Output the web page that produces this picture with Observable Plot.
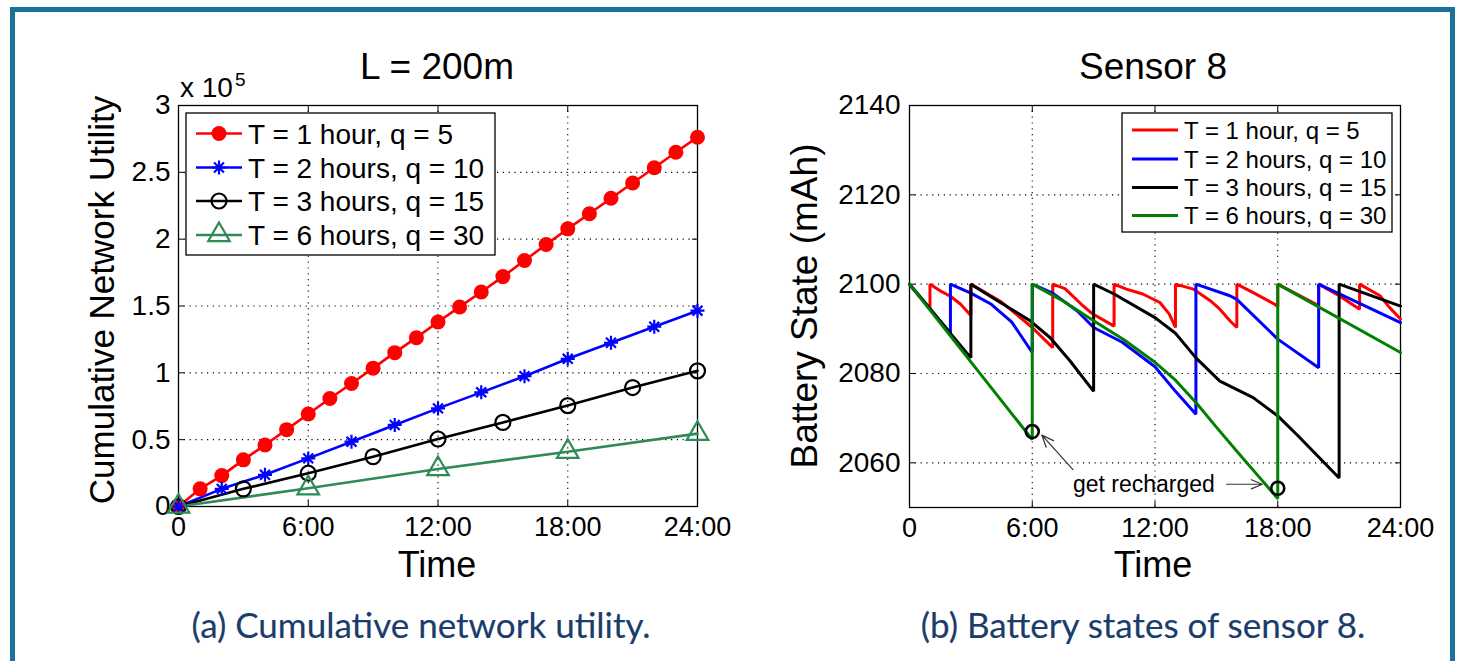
<!DOCTYPE html>
<html><head><meta charset="utf-8">
<script src="https://cdn.jsdelivr.net/npm/d3@7"></script>
<script src="https://cdn.jsdelivr.net/npm/@observablehq/plot@0.6"></script>
<style>
html,body{margin:0;padding:0;background:#fff;}
#root{position:relative;width:1462px;height:661px;overflow:hidden;background:#fff;}
#root > * {position:absolute;}
#frameBox{left:10px;top:7px;width:1445px;height:720px;border:5px solid #18729b;box-sizing:border-box;}
</style></head>
<body><div id="root"><div id="frameBox"></div></div>
<script>
// ---------- Left panel data: cumulative network utility (x 10^5) ----------
const xTicks = [0, 6, 12, 18, 24];
const xTickLabels = ["0", "6:00", "12:00", "18:00", "24:00"];
const yTicksLeft = [0, 0.5, 1, 1.5, 2, 2.5, 3];
const yTickLabelsLeft = ["0", "0.5", "1", "1.5", "2", "2.5", "3"];
const yTicksRight = [2060, 2080, 2100, 2120, 2140];

const seriesNames = ["T = 1 hour, q = 5", "T = 2 hours, q = 10", "T = 3 hours, q = 15", "T = 6 hours, q = 30"];

const utilRedX = [0,1,2,3,4,5,6,7,8,9,10,11,12,13,14,15,16,17,18,19,20,21,22,23,24];
const utilRedY = [0,0.132,0.231,0.349,0.46,0.575,0.692,0.808,0.92,1.035,1.151,1.263,1.38,1.493,1.605,1.72,1.84,1.96,2.077,2.19,2.306,2.42,2.534,2.65,2.763];
const utilBlueX = [0,2,4,6,8,10,12,14,16,18,20,22,24];
const utilBlueY = [0,0.132,0.237,0.36,0.485,0.61,0.734,0.854,0.975,1.105,1.225,1.345,1.465];
const utilBlackX = [0,3,6,9,12,15,18,21,24];
const utilBlackY = [0,0.132,0.249,0.373,0.505,0.629,0.755,0.89,1.015];
const utilGreenX = [0,6,12,18,24];
const utilGreenY = [0,0.137,0.281,0.41,0.545];

// ---------- Right panel data: battery state of sensor 8 (mAh) ----------
const batRedH = [0,1,1,1.5,2,2.5,3,3,4.5,6,7,7,7.6,8.4,8.9,10,10,10.6,11.4,12.24,12.7,13,13,13.87,14.7,15.17,15.66,16,16,16.8,17.85,18,18,20,20,21,22,22,23,23.46,24];
const batRedV = [2100,2094.5,2100,2098.5,2097.3,2095.5,2093,2100,2096,2090.3,2085.8,2100,2099,2095.5,2093.5,2090.6,2100,2098.9,2097.8,2095.9,2093.3,2090.3,2100,2098.9,2096.3,2094.4,2091.8,2090.3,2100,2098.1,2095.5,2095,2100,2095.2,2100,2097.4,2094.4,2100,2097.4,2094.8,2092.2];
const batBlueH = [0,2,2,3,4,5,6,6,7,8.2,9,10.4,12,13,14,14,15.66,16,18,20,20,24];
const batBlueV = [2100,2089,2100,2098,2095.5,2091.5,2084.7,2100,2098,2094,2090.3,2087,2081.5,2076,2070.9,2100,2097.4,2096.6,2087.7,2081.3,2100,2091.4];
const batBlackH = [0,3,3,4.44,5.9,6.88,7.85,9,9,10,12,13,14,15.17,16.8,18,19,20,21,21,24];
const batBlackV = [2100,2083.5,2100,2095.9,2091.8,2088,2082.8,2076,2100,2097.8,2092.5,2089,2083.5,2078.3,2074.6,2070.5,2066,2061.3,2056.6,2100,2095.1];
const batGreenH = [0,6,6,7.37,9,10.5,12,13,14,15,16,17,18,18,24];
const batGreenV = [2100,2065.2,2100,2096.6,2091.8,2087.5,2082.5,2078.5,2073.5,2068,2062.6,2057.3,2052,2100,2084.7];

const rechargeH = [6, 18];
const rechargeV = [2067, 2054.3];
const annotText = "get recharged";
const arrowFromH = [7.99, 15.5];
const arrowFromV = [2058.5, 2055.2];
const arrowToH = [6.47, 17.25];
const arrowToV = [2066.2, 2055.2];

const colorsLeft = ["#ff0000", "#0000ff", "#000000", "#2e8b57"];
const colorsRight = ["#ff0000", "#0000ff", "#000000", "#008000"];

// ---------- build tables ----------
const zip = (xs, ys, s) => xs.map((x, i) => ({x, y: ys[i], s}));
const utilSets = [[utilRedX, utilRedY], [utilBlueX, utilBlueY], [utilBlackX, utilBlackY], [utilGreenX, utilGreenY]]
  .map(([a, b], i) => zip(a, b, seriesNames[i]));
const batSets = [[batRedH, batRedV], [batBlueH, batBlueV], [batBlackH, batBlackV], [batGreenH, batGreenV]]
  .map(([a, b], i) => zip(a, b, seriesNames[i]));

// MATLAB-style "*" marker: a plus and a cross
const star8 = {draw(ctx, size) {
  const r = Math.sqrt(size / Math.PI), d = r * Math.SQRT1_2;
  ctx.moveTo(-r, 0); ctx.lineTo(r, 0);
  ctx.moveTo(0, -r); ctx.lineTo(0, r);
  ctx.moveTo(-d, -d); ctx.lineTo(d, d);
  ctx.moveTo(-d, d); ctx.lineTo(d, -d);
}};

const FONT = "'Liberation Sans', Arial, Helvetica, sans-serif";
const grid = {stroke: "#000", strokeOpacity: 1, strokeWidth: 1.1, strokeDasharray: "1.2,4.6"};
const xLab = new Map(xTicks.map((t, i) => [t, xTickLabels[i]]));
const yLabL = new Map(yTicksLeft.map((t, i) => [t, yTickLabelsLeft[i]]));

const W1 = 740, H = 600;
const left = Plot.plot({
  width: W1, height: H,
  marginLeft: 178, marginRight: W1 - 697, marginTop: 105, marginBottom: H - 506,
  style: {fontFamily: FONT, fontSize: "27px", color: "#000", background: "transparent", overflow: "visible"},
  x: {domain: [0, 24]},
  y: {domain: [0, 3]},
  marks: [
    Plot.gridX([6, 12, 18], grid),
    Plot.gridY([0.5, 1, 1.5, 2, 2.5], grid),
    Plot.axisX(xTicks, {anchor: "bottom", tickSize: 0, tickPadding: 10, tickFormat: d => xLab.get(d), label: null, fontSize: 27}),
    Plot.axisY(yTicksLeft, {anchor: "left", tickSize: 0, tickPadding: 8, tickFormat: d => yLabL.get(d), label: null, fontSize: 28}),
    Plot.axisX(xTicks, {anchor: "bottom", tickSize: -6, tickFormat: () => "", label: null}),
    Plot.axisX(xTicks, {anchor: "top", tickSize: -6, tickFormat: () => "", label: null}),
    Plot.axisY(yTicksLeft, {anchor: "left", tickSize: -6, tickFormat: () => "", label: null}),
    Plot.axisY(yTicksLeft, {anchor: "right", tickSize: -6, tickFormat: () => "", label: null}),
    Plot.frame({stroke: "#000", strokeWidth: 1.3}),
    ...utilSets.map((d, i) => Plot.line(d, {x: "x", y: "y", stroke: colorsLeft[i], strokeWidth: 2.6})),
    Plot.dot(utilSets[0], {x: "x", y: "y", fill: colorsLeft[0], r: 7.5, symbol: "circle"}),
    Plot.dot(utilSets[1], {x: "x", y: "y", stroke: colorsLeft[1], r: 7, symbol: star8, strokeWidth: 2.2}),
    Plot.dot(utilSets[2], {x: "x", y: "y", stroke: colorsLeft[2], r: 7.5, symbol: "circle", fill: "none", strokeWidth: 2.2}),
    Plot.dot(utilSets[3], {x: "x", y: "y", stroke: colorsLeft[3], r: 8, symbol: "triangle", fill: "none", strokeWidth: 2.2})
  ]
});
left.style.left = "0px"; left.style.top = "0px";
document.getElementById("root").appendChild(left);

const X2 = 740, W2 = 722;
const right = Plot.plot({
  width: W2, height: H,
  marginLeft: 909 - X2, marginRight: X2 + W2 - 1400, marginTop: 105, marginBottom: H - 507,
  style: {fontFamily: FONT, fontSize: "27px", color: "#000", background: "transparent", overflow: "visible"},
  x: {domain: [0, 24]},
  y: {domain: [2050, 2140]},
  marks: [
    Plot.gridX([6, 12, 18], grid),
    Plot.gridY([2060, 2080, 2100, 2120], grid),
    Plot.axisX(xTicks, {anchor: "bottom", tickSize: 0, tickPadding: 10, tickFormat: d => xLab.get(d), label: null, fontSize: 27}),
    Plot.axisY(yTicksRight, {anchor: "left", tickSize: 0, tickPadding: 9, tickFormat: d => String(d), label: null, fontSize: 28}),
    Plot.axisX(xTicks, {anchor: "bottom", tickSize: -6, tickFormat: () => "", label: null}),
    Plot.axisX(xTicks, {anchor: "top", tickSize: -6, tickFormat: () => "", label: null}),
    Plot.axisY(yTicksRight, {anchor: "left", tickSize: -6, tickFormat: () => "", label: null}),
    Plot.axisY(yTicksRight, {anchor: "right", tickSize: -6, tickFormat: () => "", label: null}),
    Plot.frame({stroke: "#000", strokeWidth: 1.3}),
    ...batSets.map((d, i) => Plot.line(d, {x: "x", y: "y", stroke: colorsRight[i], strokeWidth: 3, strokeLinejoin: "miter"})),
    Plot.dot(rechargeH.map((h, i) => ({h, v: rechargeV[i]})), {x: "h", y: "v", r: 6.5, stroke: "#000", strokeWidth: 2.6, fill: "none"}),
    Plot.arrow(arrowFromH.map((h, i) => ({x1: h, y1: arrowFromV[i], x2: arrowToH[i], y2: arrowToV[i]})),
      {x1: "x1", y1: "y1", x2: "x2", y2: "y2", stroke: "#333", strokeWidth: 1.2, headLength: 16, headAngle: 45}),
    Plot.text([annotText], {x: [arrowFromH[0]], y: [arrowFromV[1]], text: d => d, textAnchor: "start", fontSize: 23, fill: "#000"})
  ]
});
right.style.left = X2 + "px"; right.style.top = "0px";
document.getElementById("root").appendChild(right);

// ---------- overlay: titles, axis names, legends, captions ----------
const ov = d3.select("#root").append("svg")
  .attr("width", 1462).attr("height", 661)
  .style("left", "0px").style("top", "0px").style("pointer-events", "none")
  .style("font-family", FONT);

const txt = (x, y, s, size, anchor = "middle", extra = {}) => {
  const t = ov.append("text").attr("x", x).attr("y", y).attr("font-size", size).attr("text-anchor", anchor).text(s);
  for (const k in extra) t.attr(k, extra[k]);
  return t;
};
txt(437, 79, "L = 200m", 37);
txt(1153, 79, "Sensor 8", 37);
txt(437, 577, "Time", 36);
txt(1153, 577, "Time", 36);
txt(0, 0, "Cumulative Network Utility", 35, "middle", {transform: "translate(114,300) rotate(-90)"});
txt(0, 0, "Battery State (mAh)", 37, "middle", {transform: "translate(817,306) rotate(-90)"});
txt(180, 97, "x 10", 28, "start");
txt(235, 86, "5", 19, "start");

const CAP = "Lato, 'Open Sans', sans-serif";
const capStyle = {fill: "#1a3d6b", stroke: "#1a3d6b", "stroke-width": 0.15, "font-family": CAP};
txt(421, 638, "(a) Cumulative network utility.", 35, "middle", capStyle);
txt(1143, 638, "(b) Battery states of sensor 8.", 35, "middle", capStyle);

function legend(box, rows, lineX0, lineX1, textX, size, colors, markers) {
  ov.append("rect").attr("x", box[0]).attr("y", box[1]).attr("width", box[2] - box[0]).attr("height", box[3] - box[1])
    .attr("fill", "#fff").attr("stroke", "#000").attr("stroke-width", 1.3);
  rows.forEach((y, i) => {
    ov.append("line").attr("x1", lineX0).attr("x2", lineX1).attr("y1", y).attr("y2", y)
      .attr("stroke", colors[i]).attr("stroke-width", markers ? 2.6 : 3.2);
    if (markers) {
      const cx = (lineX0 + lineX1) / 2;
      const m = markers[i];
      const sym = d3.symbol().type(m.type).size(Math.PI * m.r * m.r)();
      ov.append("path").attr("d", sym).attr("transform", `translate(${cx},${y})`)
        .attr("fill", m.fill ? colors[i] : "none").attr("stroke", m.fill ? "none" : colors[i]).attr("stroke-width", 2.2);
    }
    txt(textX, y + size * 0.36, seriesNames[i], size, "start");
  });
}
legend([186, 113, 495, 255], [133.5, 167.5, 201, 235], 196, 242, 248, 28, colorsLeft, [
  {type: d3.symbolCircle, r: 7.5, fill: true},
  {type: star8, r: 7},
  {type: d3.symbolCircle, r: 7.5},
  {type: d3.symbolTriangle, r: 8}
]);
legend([1122, 113, 1392, 232], [130, 159, 187.5, 215.5], 1132, 1178, 1184, 24, colorsRight, null);
</script>
</body></html>
